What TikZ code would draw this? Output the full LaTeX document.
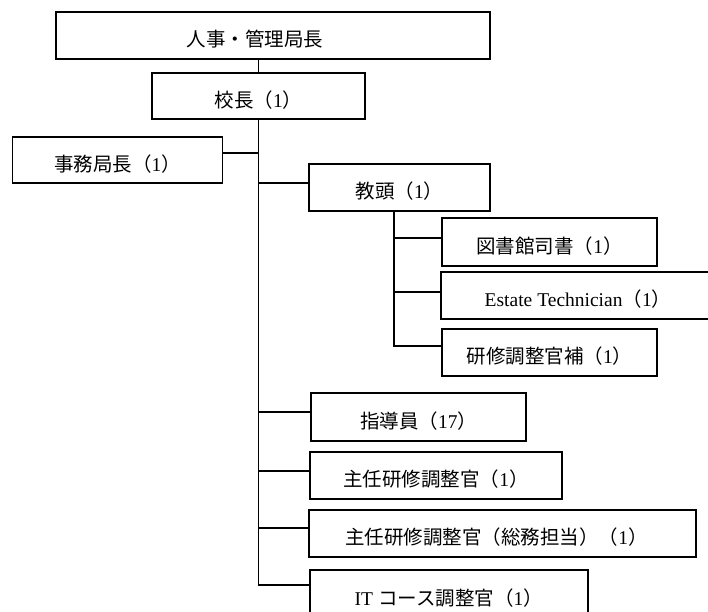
\documentclass[tikz,border=0pt]{standalone}
\usepackage{fontspec}
\setmainfont{Liberation Serif}
\newfontfamily\cjk{Noto Sans CJK JP}
\newcommand\jp[1]{{\cjk #1}}
\newcommand\cnt[1]{\jp{（}#1\jp{）}}
\begin{document}
\begin{tikzpicture}[x=1pt,y=-1pt,
  box/.style={draw, line width=1.5pt, minimum height=47pt, inner sep=0pt,
    text height=22pt, text depth=0pt,
    font=\fontsize{19.5}{22}\selectfont},
  conn/.style={line width=1.5pt}]
\useasboundingbox[fill=white] (0,0) rectangle (708,611);
\node[box, minimum width=434pt] (top) at (273,35.5) {\jp{人事・管理局長}\hspace*{36pt}};
\node[box, minimum width=213pt, minimum height=46pt] (kocho) at (258.5,96) {\jp{校長}\cnt{1}};
\node[box, minimum width=210pt, minimum height=46pt] (jimu) at (117.5,160) {\jp{事務局長}\cnt{1}};
\node[box, minimum width=181pt] (kyoto) at (399.5,187.5) {\jp{教頭}\cnt{1}};
\node[box, minimum width=215pt, minimum height=48pt] (tosho) at (549.5,242) {\jp{図書館司書}\cnt{1}};
\node[box, minimum width=274pt] (estate) at (578,295.5) {Estate Technician\cnt{1}};
\node[box, minimum width=215pt] (kenshuho) at (549.5,352.5) {\jp{研修調整官補}\cnt{1}};
\node[box, minimum width=215pt, minimum height=48pt] (shido) at (418.5,417) {\jp{指導員}\cnt{17}};
\node[box, minimum width=252pt] (shunin) at (436,475.5) {\jp{主任研修調整官}\cnt{1}};
\node[box, minimum width=387pt] (somu) at (502.5,533.5) {\jp{主任研修調整官}\cnt{\jp{総務担当}}\cnt{1}\hspace*{12pt}};
\node[box, minimum width=278pt, minimum height=49pt, anchor=north west] (it) at (309,569) {IT \jp{コース調整官}\cnt{1}};
% connectors
\draw[conn] (kocho.north) -- (kocho.north |- top.south);
\coordinate (bend) at (258.5,585);
\draw[conn] (kocho.south) -- (bend) -- (bend -| it.west);
\draw[conn] ([yshift=7pt]jimu.east) -- ([yshift=7pt]jimu.east -| kocho.south);
\draw[conn] ([yshift=4.5pt]kyoto.west) -- ([yshift=4.5pt]kyoto.west -| kocho.south);
\draw[conn] ([yshift=5pt]shido.west) -- ([yshift=5pt]shido.west -| kocho.south);
\draw[conn] ([yshift=4.5pt]shunin.west) -- ([yshift=4.5pt]shunin.west -| kocho.south);
\draw[conn] ([yshift=5.5pt]somu.west) -- ([yshift=5.5pt]somu.west -| kocho.south);
% sub branch
\coordinate (subend) at (394,346);
\draw[conn] ([xshift=-5.5pt]kyoto.south) -- (subend) -- (subend -| kenshuho.west);
\draw[conn] ([yshift=4pt]tosho.west) -- ([yshift=4pt]tosho.west -| subend);
\draw[conn] ([yshift=3.5pt]estate.west) -- ([yshift=3.5pt]estate.west -| subend);
\end{tikzpicture}
\end{document}
